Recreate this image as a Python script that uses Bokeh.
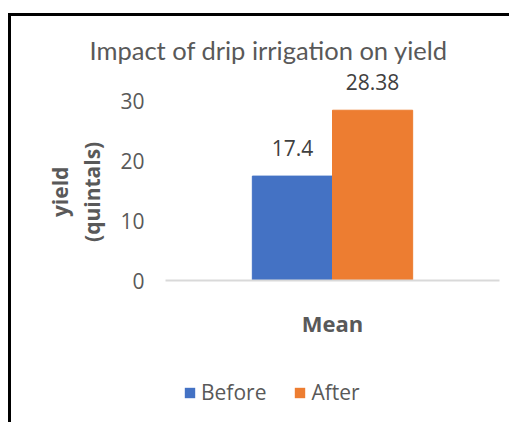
from bokeh.plotting import figure
from bokeh.layouts import column
from bokeh.models import FactorRange, Range1d, Legend, LegendItem, ColumnDataSource, FixedTicker
from bokeh.transform import dodge
from bokeh.core.properties import value
from bokeh.embed import file_html
from bokeh.resources import INLINE

categories = ["Mean"]
series = ["Before", "After"]
before = [17.4]
after = [28.38]
y_ticks = [0, 10, 20, 30]
colors = ["#4472C4", "#ED7D31"]

src = ColumnDataSource(dict(
    cat=categories,
    before=before,
    after=after,
    before_lbl=[str(v) for v in before],
    after_lbl=[str(v) for v in after],
))

p = figure(x_range=FactorRange(factors=categories), y_range=Range1d(0, 35),
           width=498, height=334, output_backend="svg", toolbar_location=None,
           min_border_left=154, min_border_right=10, min_border_top=54, min_border_bottom=70)

r1 = p.vbar(x=dodge("cat", -0.12, range=p.x_range), top="before", width=0.24, source=src,
            fill_color=colors[0], line_color=colors[0])
r2 = p.vbar(x=dodge("cat", 0.12, range=p.x_range), top="after", width=0.24, source=src,
            fill_color=colors[1], line_color=colors[1])

for col, lbl, off in (("before", "before_lbl", -0.12), ("after", "after_lbl", 0.12)):
    p.text(x=dodge("cat", off, range=p.x_range), y=col, text=lbl, source=src,
           text_align="center", text_baseline="bottom", y_offset=-20,
           text_font_size="21px", text_color="#404040", text_font=value("Open Sans"))

p.title.text = "Impact of drip irrigation on yield"
p.title.align = "left"
p.title.offset = -76
p.title.standoff = 12
p.title.text_font = "Lato"
p.title.text_font_size = "25.5px"
p.title.text_font_style = "normal"
p.title.text_color = "#595959"

p.yaxis.ticker = FixedTicker(ticks=y_ticks)
p.yaxis.axis_line_color = None
p.yaxis.major_tick_line_color = None
p.yaxis.minor_tick_line_color = None
p.yaxis.major_label_text_font = "Open Sans"
p.yaxis.major_label_text_font_size = "21px"
p.yaxis.major_label_text_color = "#595959"
p.yaxis.major_label_standoff = 15
pad = "\u00a0" * 6
p.yaxis.axis_label = "yield" + pad + "\n(quintals)" + pad
p.yaxis.axis_label_text_font = "Open Sans"
p.yaxis.axis_label_text_font_size = "21px"
p.yaxis.axis_label_text_font_style = "bold"
p.yaxis.axis_label_text_color = "#595959"
p.yaxis.axis_label_text_line_height = 1.15
p.yaxis.axis_label_standoff = 11

p.xaxis.axis_line_color = "#d9d9d9"
p.xaxis.axis_line_width = 2
p.xaxis.major_tick_line_color = None
p.xaxis.minor_tick_line_color = None
p.xaxis.major_label_text_font = "Open Sans"
p.xaxis.major_label_text_font_size = "22px"
p.xaxis.major_label_text_font_style = "bold"
p.xaxis.major_label_text_color = "#595959"
p.xaxis.major_label_standoff = 21

p.xgrid.grid_line_color = None
p.ygrid.grid_line_color = None
p.outline_line_color = None

# legend strip below the chart (its bars fall far outside its visible range)
p2 = figure(width=498, height=72, x_range=p.x_range, y_range=Range1d(1000, 1001),
            output_backend="svg", toolbar_location=None,
            x_axis_location=None, y_axis_location=None, min_border=0)
p2.xgrid.grid_line_color = None
p2.ygrid.grid_line_color = None
p2.outline_line_color = None
d1 = p2.vbar(x=dodge("cat", -0.12, range=p.x_range), top="before", width=0.24, source=src,
             fill_color=colors[0], line_color=None)
d2 = p2.vbar(x=dodge("cat", 0.12, range=p.x_range), top="after", width=0.24, source=src,
             fill_color=colors[1], line_color=None)

legend = Legend(items=[LegendItem(label=series[0], renderers=[d1]),
                       LegendItem(label=series[1], renderers=[d2])],
                orientation="horizontal", location=(18, 16))
legend.glyph_width = 13
legend.glyph_height = 13
legend.label_text_font = "Open Sans"
legend.label_text_font_size = "21px"
legend.label_text_color = "#595959"
legend.label_standoff = 5
legend.spacing = 27
legend.padding = 0
legend.margin = 0
legend.border_line_color = None
legend.background_fill_alpha = 0
p2.add_layout(legend, "center")

layout = column(p, p2, spacing=0)
layout.styles = {"border-top": "3px solid black", "border-left": "3px solid black",
                 "margin-top": "13px", "margin-left": "8px"}

open("out.html", "w").write(file_html(layout, INLINE))
